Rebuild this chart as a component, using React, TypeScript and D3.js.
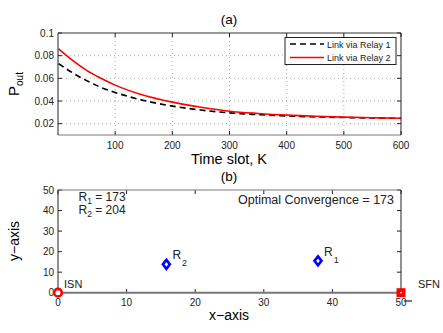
import React from "react";
import * as d3 from "d3";

const kValues = [1, 25, 50, 75, 100, 150, 200, 250, 300, 350, 400, 450, 500, 550, 600];
const relay1 = [0.073, 0.065, 0.058, 0.052, 0.0475, 0.0405, 0.0355, 0.032, 0.0295, 0.028, 0.0268, 0.026, 0.0254, 0.025, 0.0247];
const relay2 = [0.086, 0.076, 0.067, 0.06, 0.054, 0.045, 0.039, 0.0345, 0.031, 0.029, 0.0275, 0.0265, 0.0258, 0.0252, 0.0248];
const xTicksA = [100, 200, 300, 400, 500, 600];
const yTicksA = [0.02, 0.04, 0.06, 0.08, 0.1];
const legendLabels = ["Link via Relay 1", "Link via Relay 2"];

const ticksB = [0, 10, 20, 30, 40, 50];
const nodeNames = ["ISN", "SFN"];
const nodeX = [0, 50];
const nodeY = [0, 0];
const relayNames = ["1", "2"];
const relayX = [37.9, 15.8];
const relayY = [15.5, 13.8];
const relayScores = [173, 204];
const optimal = 173;

const FONT = "Liberation Sans, Arial, Helvetica, sans-serif";

export default function App() {
  const L = 58, R = 401;
  const xA = d3.scaleLinear().domain([0, 600]).range([L, R]);
  const yA = d3.scaleLinear().domain([0.01, 0.1]).range([135, 33]);
  const xB = d3.scaleLinear().domain([0, 50]).range([L, R]);
  const yB = d3.scaleLinear().domain([0, 50]).range([292.7, 190]);

  const lineA = (vals: number[]) =>
    d3.line<number>().x((_, i) => xA(kValues[i])).y((v) => yA(v)).curve(d3.curveMonotoneX)(vals) || "";

  const grid = "#999";
  return (
    <svg width={443} height={333} style={{ position: "absolute", left: 0, top: 0, fontFamily: FONT }}>
      <rect width={443} height={333} fill="#fff" />
      {/* Plot (a) */}
      <text x={229} y={24} fontSize={13.5} textAnchor="middle">(a)</text>
      {xTicksA.slice(0, -1).map((t) => (
        <line key={"gx" + t} x1={xA(t)} x2={xA(t)} y1={33} y2={135} stroke={grid} strokeWidth={0.8} strokeDasharray="1,3" />
      ))}
      {yTicksA.slice(0, -1).map((t) => (
        <line key={"gy" + t} x1={L} x2={R} y1={yA(t)} y2={yA(t)} stroke={grid} strokeWidth={0.8} strokeDasharray="1,3" />
      ))}
      {xTicksA.map((t) => (
        <g key={"tx" + t}>
          <line x1={xA(t)} x2={xA(t)} y1={135} y2={131} stroke="#222" />
          <line x1={xA(t)} x2={xA(t)} y1={33} y2={37} stroke="#222" />
          <text x={xA(t)} y={149} fontSize={10} textAnchor="middle" fill="#222">{t}</text>
        </g>
      ))}
      {yTicksA.map((t) => (
        <g key={"ty" + t}>
          <line x1={L} x2={L + 4} y1={yA(t)} y2={yA(t)} stroke="#222" />
          <line x1={R} x2={R - 4} y1={yA(t)} y2={yA(t)} stroke="#222" />
          <text x={54} y={yA(t) + 3.5} fontSize={10} textAnchor="end" fill="#222">{t}</text>
        </g>
      ))}
      <path d={lineA(relay1)} fill="none" stroke="#000" strokeWidth={1.6} strokeDasharray="6,4" />
      <path d={lineA(relay2)} fill="none" stroke="#f00" strokeWidth={1.6} />
      <line x1={L} x2={R} y1={33} y2={33} stroke="#333" />
      <line x1={L} x2={R} y1={135} y2={135} stroke="#777" />
      <line x1={L} x2={L} y1={33} y2={135} stroke="#222" />
      <line x1={R} x2={R} y1={33} y2={135} stroke="#222" />
      {/* legend */}
      <rect x={285} y={37.5} width={111} height={27} fill="#fff" stroke="#222" />
      <line x1={290} x2={324} y1={44} y2={44} stroke="#000" strokeWidth={1.6} strokeDasharray="6,4" />
      <line x1={290} x2={324} y1={57.5} y2={57.5} stroke="#f00" strokeWidth={1.6} />
      <text x={327} y={47.5} fontSize={9} fill="#222">{legendLabels[0]}</text>
      <text x={327} y={61} fontSize={9} fill="#222">{legendLabels[1]}</text>
      <text x={229} y={164} fontSize={14.5} textAnchor="middle">Time slot, K</text>
      <text transform="translate(19,84) rotate(-90)" fontSize={15} textAnchor="middle">
        P<tspan fontSize={10} dy={4}>out</tspan>
      </text>

      {/* Plot (b) */}
      <text x={229} y={181} fontSize={13.5} textAnchor="middle">(b)</text>
      {ticksB.map((t) => (
        <g key={"bx" + t}>
          <line x1={xB(t)} x2={xB(t)} y1={292.7} y2={289} stroke="#222" />
          <line x1={xB(t)} x2={xB(t)} y1={190} y2={194} stroke="#222" />
          <text x={xB(t)} y={306} fontSize={10} textAnchor="middle" fill="#222">{t}</text>
        </g>
      ))}
      {ticksB.map((t) => (
        <g key={"by" + t}>
          <line x1={L} x2={L + 4} y1={yB(t)} y2={yB(t)} stroke="#222" />
          <line x1={R} x2={R - 4} y1={yB(t)} y2={yB(t)} stroke="#222" />
          <text x={54} y={yB(t) + 3.5} fontSize={10} textAnchor="end" fill="#222">{t}</text>
        </g>
      ))}
      <line x1={L} x2={R} y1={190} y2={190} stroke="#777" />
      <line x1={L} x2={L} y1={190} y2={292.7} stroke="#222" />
      <line x1={R} x2={R} y1={190} y2={292.7} stroke="#222" />
      <line x1={xB(nodeX[0])} x2={xB(nodeX[1])} y1={yB(nodeY[0])} y2={yB(nodeY[1])} stroke="#777" strokeWidth={2} />
      <line x1={404} x2={412} y1={301} y2={301} stroke="#222" strokeWidth={1.2} />
      <text x={78.5} y={201} fontSize={12} fill="#222">
        R<tspan fontSize={8.5} dy={2.5}>{relayNames[0]}</tspan><tspan dy={-2.5}> = {relayScores[0]}</tspan>
      </text>
      <text x={78.5} y={214} fontSize={12} fill="#222">
        R<tspan fontSize={8.5} dy={2.5}>{relayNames[1]}</tspan><tspan dy={-2.5}> = {relayScores[1]}</tspan>
      </text>
      <text x={394} y={204} fontSize={12.5} textAnchor="end" fill="#222">Optimal Convergence = {optimal}</text>
      {/* ISN circle */}
      <circle cx={xB(nodeX[0])} cy={yB(nodeY[0])} r={3.8} fill="#fff" stroke="#f00" strokeWidth={2.6} />
      <text x={64} y={288} fontSize={11} fill="#222">{nodeNames[0]}</text>
      {/* SFN square */}
      <rect x={xB(nodeX[1]) - 4.5} y={yB(nodeY[1]) - 4.5} width={9} height={9} fill="#f00" />
      <rect x={xB(nodeX[1]) - 0.7} y={yB(nodeY[1]) - 0.7} width={1.4} height={1.4} fill="#fff" />
      <text x={418} y={288} fontSize={11} fill="#222">{nodeNames[1]}</text>
      {/* relays */}
      {relayX.map((rx, i) => {
        const cx = xB(rx), cy = yB(relayY[i]);
        const p = `M${cx},${cy - 4.5}L${cx + 3.5},${cy}L${cx},${cy + 4.5}L${cx - 3.5},${cy}Z`;
        return (
          <g key={"r" + i}>
            <path d={p} fill="#fff" stroke="#00f" strokeWidth={2.6} />
            <text x={cx + 6} y={cy - 5} fontSize={12} fill="#222">
              R<tspan fontSize={9} dx={1} dy={7}>{relayNames[i]}</tspan>
            </text>
          </g>
        );
      })}
      <text x={229} y={320} fontSize={14} textAnchor="middle">x−axis</text>
      <text transform="translate(19,241) rotate(-90)" fontSize={14} textAnchor="middle">y−axis</text>
    </svg>
  );
}
